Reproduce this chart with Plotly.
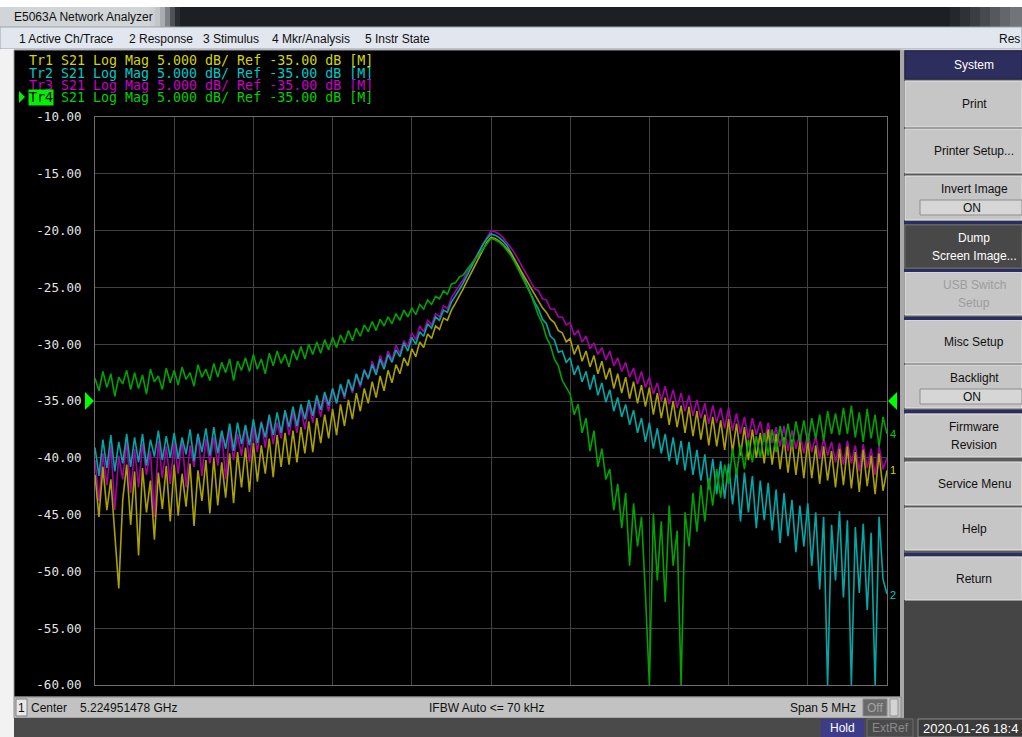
import plotly.graph_objects as go

# ---------------- data (S21 log-mag, dB), sweep -2.5..+2.5 MHz around centre ----------------
F_START = -2.5      # MHz offset from centre
F_STEP = 0.025      # MHz per point
Y_TICKS = [-60, -55, -50, -45, -40, -35, -30, -25, -20, -15, -10]
Y_TICK_TEXT = ["-60.00", "-55.00", "-50.00", "-45.00", "-40.00", "-35.00",
               "-30.00", "-25.00", "-20.00", "-15.00", "-10.00"]

tr1 = [  # yellow
    -41.5, -45.2, -40.8, -44.6, -41.9, -46.8, -51.5, -43.7, -40.6, -45.9,
    -41.2, -48.6, -40.9, -44.8, -42.0, -47.2, -41.3, -44.5, -40.7, -45.6,
    -40.6, -45.1, -41.4, -44.3, -40.5, -46.0, -41.1, -43.8, -40.2, -44.9,
    -40.0, -44.2, -40.4, -43.5, -39.6, -44.0, -39.5, -42.6, -39.1, -43.0,
    -38.7, -42.1, -38.9, -41.4, -38.3, -41.7, -38.0, -40.8, -37.8, -40.6,
    -37.6, -40.4, -37.3, -39.6, -36.8, -39.5, -36.5, -38.7, -36.2, -38.3,
    -35.7, -38.0, -35.3, -37.2, -34.9, -36.6, -34.3, -35.9, -33.9, -35.2,
    -33.3, -34.7, -32.8, -34.1, -32.3, -33.4, -31.8, -32.6, -31.2, -31.9,
    -30.4, -31.1, -29.8, -30.3, -29.1, -29.5, -28.4, -28.7, -27.7, -27.9,
    -27.0, -26.4, -25.8, -25.1, -24.4, -23.7, -23.0, -22.3, -21.6, -21.0,
    -20.6, -20.7, -20.9, -21.2, -21.6, -22.0, -22.6, -23.2, -23.8, -24.4,
    -25.0, -25.6, -26.2, -26.8, -27.2, -27.8, -28.1, -28.8, -29.0, -29.8,
    -29.5, -30.9, -30.1, -31.5, -30.6, -32.0, -31.0, -32.6, -31.5, -33.1,
    -32.1, -33.9, -32.6, -34.3, -32.9, -34.8, -33.3, -35.2, -33.6, -35.5,
    -33.8, -36.2, -34.3, -36.5, -34.7, -37.1, -35.0, -37.3, -35.4, -37.8,
    -35.5, -38.1, -35.9, -38.4, -36.2, -38.9, -36.4, -39.0, -36.7, -39.3,
    -36.6, -39.5, -37.0, -39.8, -37.3, -40.2, -37.5, -40.0, -37.8, -40.5,
    -37.5, -40.6, -37.9, -41.0, -38.2, -41.3, -38.4, -41.5, -38.6, -41.8,
    -38.4, -41.8, -38.9, -42.3, -39.0, -42.0, -39.4, -42.6, -39.2, -42.4,
    -39.0, -42.7, -39.5, -43.0, -39.3, -42.5, -39.8, -43.2, -39.6, -42.9,
    -41.1,
]

tr2 = [  # cyan
    -39.1, -41.6, -38.4, -40.9, -38.0, -41.2, -38.6, -40.5, -37.9, -40.8,
    -38.2, -40.4, -37.9, -40.7, -38.4, -39.9, -37.6, -40.2, -38.1, -40.0,
    -37.8, -40.1, -38.2, -39.7, -37.5, -40.3, -37.9, -39.5, -37.4, -39.8,
    -37.3, -39.6, -37.6, -39.2, -37.0, -39.4, -36.9, -38.8, -37.1, -38.9,
    -36.6, -38.7, -36.9, -38.2, -36.2, -38.0, -36.0, -37.8, -35.8, -37.3,
    -35.5, -37.2, -35.3, -36.6, -34.9, -36.3, -34.5, -35.8, -34.2, -35.4,
    -33.9, -35.2, -33.5, -34.6, -33.1, -34.1, -32.6, -33.6, -32.3, -33.0,
    -31.8, -32.7, -31.3, -32.2, -30.9, -31.6, -30.5, -31.1, -29.9, -30.6,
    -29.4, -30.0, -28.9, -29.3, -28.2, -28.6, -27.6, -27.9, -27.0, -27.2,
    -26.3, -25.8, -25.2, -24.6, -23.9, -23.2, -22.6, -21.9, -21.2, -20.7,
    -20.3, -20.4, -20.6, -20.9, -21.3, -21.9, -22.5, -23.2, -24.0, -24.8,
    -25.5, -26.3, -26.9, -27.8, -28.2, -29.3, -29.6, -30.7, -30.6, -31.6,
    -31.2, -32.7, -31.9, -33.3, -32.4, -34.0, -32.7, -34.5, -33.4, -35.1,
    -34.0, -35.9, -34.7, -36.4, -35.3, -37.1, -35.8, -37.8, -36.5, -38.6,
    -36.9, -39.2, -37.4, -39.6, -37.9, -40.3, -38.2, -40.6, -38.5, -41.1,
    -38.6, -41.5, -39.3, -42.0, -39.7, -42.8, -40.1, -43.2, -40.3, -43.6,
    -40.5, -44.1, -40.9, -45.6, -41.3, -44.8, -41.6, -46.2, -42.0, -45.5,
    -42.2, -46.4, -42.8, -47.5, -43.1, -46.9, -43.7, -48.3, -44.2, -47.8,
    -44.0, -49.5, -44.8, -51.6, -45.2, -60.0, -45.9, -50.8, -44.7, -52.3,
    -45.5, -60.0, -46.1, -51.9, -45.8, -53.4, -46.6, -60.0, -45.2, -50.7,
    -52.0,
]

tr3 = [  # magenta
    -40.2, -43.8, -39.6, -42.4, -38.9, -44.6, -39.8, -41.9, -38.5, -43.1,
    -39.2, -42.6, -38.7, -41.5, -39.4, -45.2, -38.5, -41.8, -39.0, -42.3,
    -38.6, -41.4, -38.4, -42.6, -38.9, -40.8, -37.9, -41.6, -38.3, -40.5,
    -38.2, -40.7, -37.8, -41.9, -37.5, -40.2, -37.9, -39.8, -37.2, -40.4,
    -37.1, -39.5, -36.8, -39.1, -36.4, -38.8, -36.9, -38.3, -35.9, -38.0,
    -36.0, -37.8, -35.6, -37.5, -35.3, -36.9, -34.8, -36.4, -34.5, -35.9,
    -33.9, -35.2, -33.6, -34.8, -33.1, -34.3, -32.7, -33.8, -32.2, -33.1,
    -31.5, -32.5, -31.0, -31.9, -30.6, -31.4, -30.1, -30.8, -29.7, -30.2,
    -29.0, -29.6, -28.4, -28.9, -27.9, -28.3, -27.3, -27.6, -26.6, -26.9,
    -25.9, -25.4, -24.8, -24.3, -23.6, -23.0, -22.4, -21.7, -21.1, -20.5,
    -20.0, -20.1, -20.3, -20.6, -21.0, -21.5, -22.0, -22.6, -23.2, -23.9,
    -24.4, -25.1, -25.3, -26.0, -26.1, -26.9, -26.9, -27.6, -27.6, -28.3,
    -28.1, -29.2, -28.8, -29.8, -29.3, -30.4, -29.9, -30.9, -30.3, -31.4,
    -30.6, -31.9, -31.2, -32.4, -31.6, -32.9, -32.1, -33.5, -32.4, -33.8,
    -32.9, -34.4, -33.4, -35.0, -33.7, -35.3, -34.0, -35.6, -34.3, -35.9,
    -34.5, -36.3, -34.9, -36.5, -35.2, -37.0, -35.4, -36.9, -35.6, -37.4,
    -35.6, -37.6, -36.1, -37.9, -36.4, -38.3, -36.5, -38.0, -36.8, -38.6,
    -36.9, -38.7, -37.3, -39.0, -37.2, -39.4, -37.6, -39.2, -37.9, -39.6,
    -37.8, -39.5, -38.1, -40.1, -38.3, -39.8, -38.6, -40.4, -38.7, -40.6,
    -38.5, -40.5, -38.9, -41.2, -38.8, -40.9, -39.2, -41.5, -39.0, -41.0,
    -40.0,
]

tr4 = [  # green
    -33.0, -34.1, -32.4, -33.8, -32.6, -34.6, -32.9, -33.5, -32.3, -34.0,
    -32.5, -33.9, -32.7, -34.4, -32.2, -33.3, -32.8, -34.0, -32.1, -33.4,
    -32.3, -33.6, -32.0, -33.1, -32.5, -33.7, -31.8, -32.9, -32.2, -33.2,
    -31.7, -32.9, -31.6, -32.5, -31.3, -33.2, -31.5, -32.3, -31.2, -32.4,
    -30.9, -32.2, -31.3, -32.6, -30.8, -31.9, -30.6, -31.7, -30.9, -32.0,
    -30.5, -31.4, -30.2, -31.3, -30.0, -30.9, -29.8, -30.8, -29.6, -30.5,
    -29.4, -30.3, -29.2, -29.9, -28.8, -29.7, -28.6, -29.3, -28.3, -28.9,
    -28.0, -28.8, -27.8, -28.4, -27.6, -28.2, -27.3, -27.9, -27.0, -27.6,
    -26.8, -27.4, -26.5, -26.9, -26.1, -26.5, -25.8, -26.0, -25.3, -25.6,
    -24.7, -24.6, -24.1, -23.9, -23.4, -23.0, -22.6, -22.1, -21.6, -21.1,
    -20.7, -20.8, -21.0, -21.3, -21.7, -22.2, -22.8, -23.5, -24.1, -24.9,
    -25.6, -26.5, -27.5, -28.2, -29.4, -30.1, -31.3, -31.9, -33.2, -33.8,
    -34.4, -36.2, -35.3, -37.8, -36.5, -39.4, -37.6, -40.8, -39.2, -41.9,
    -41.0, -44.6, -42.3, -46.2, -43.1, -49.5, -44.0, -47.8, -45.2, -52.0,
    -60.0, -44.9, -50.8, -45.6, -52.7, -44.2, -49.5, -46.4, -60.0, -44.8,
    -47.8, -43.1, -46.5, -42.4, -45.6, -41.8, -44.2, -41.0, -43.5, -40.6,
    -42.3, -39.2, -41.5, -38.9, -41.0, -38.4, -40.4, -38.1, -40.0, -37.8,
    -39.8, -37.5, -39.5, -37.2, -38.9, -37.0, -39.1, -36.8, -38.6, -36.7,
    -38.7, -36.5, -38.3, -36.2, -38.5, -35.9, -37.9, -36.1, -38.0, -35.6,
    -37.9, -35.4, -38.2, -36.0, -38.6, -35.7, -38.3, -36.2, -39.0, -36.4,
    -37.9,
]

TRACE_NAMES = ["Tr3", "Tr2", "Tr1", "Tr4"]          # drawing order
TRACE_DATA = [tr3, tr2, tr1, tr4]
TRACE_COLORS = ["#a800a8", "#00a8a8", "#aaa200", "#00a400"]
LABEL_COLORS = {"Tr1": "#d4d400", "Tr2": "#00c8c8", "Tr3": "#c800c8", "Tr4": "#00d000"}

# ---------------- pixel helpers (plot area 95..887 x 117..685) ----------------
PL, PR, PT, PB = 95, 887, 117, 685


def X(x):
    return (x - PL) / (PR - PL)


def Y(y):
    return (PB - y) / (PB - PT)


shapes = []
annots = []


def rect(x0, y0, x1, y1, fill, line=None, lw=0, layer="below"):
    shapes.append(dict(type="rect", xref="paper", yref="paper",
                       x0=X(x0), x1=X(x1), y0=Y(y1), y1=Y(y0),
                       fillcolor=fill, line=dict(color=line or fill, width=lw), layer=layer))


def tri(pts, fill):
    p = "M " + " L ".join(f"{X(a):.5f},{Y(b):.5f}" for a, b in pts) + " Z"
    shapes.append(dict(type="path", xref="paper", yref="paper", path=p,
                       fillcolor=fill, line=dict(color=fill, width=0), layer="above"))


UI = "Liberation Sans"
MONO = "DejaVu Sans Mono"


def text(x, y, s, color="#101010", size=12, anchor="left", family=UI, bg=None):
    a = dict(xref="paper", yref="paper", x=X(x), y=Y(y), text=s, showarrow=False,
             xanchor=anchor, yanchor="middle", font=dict(family=family, size=size, color=color),
             borderpad=0)
    if bg:
        a["bgcolor"] = bg
    annots.append(a)


# ---------------- window chrome ----------------
rect(0, 7, 1022, 27, "#1c2024")          # title bar
for i, c in enumerate(["#d2d5d8", "#cdd0d3", "#c3c6c9", "#a9adb1", "#7f8387", "#4e5357", "#2a2e32"]):
    rect(0 if i == 0 else 150 + (i - 1) * 5, 7, 150 + i * 5, 27, c)
for i, c in enumerate(["#24282c", "#2e3236", "#3a3e42", "#474b4f", "#55595d", "#63676b", "#71757a"]):
    rect(950 + i * 10, 7, 960 + i * 10 + (5 if i == 6 else 0), 27, c)
text(13, 17, "E5063A Network Analyzer", "#101010", 12)

rect(0, 27, 1022, 49, "#e1e6ef", "#9da3ab", 1)   # menu bar
for lx, s in [(18, "1 Active Ch/Trace"), (128, "2 Response"), (202, "3 Stimulus"),
              (271, "4 Mkr/Analysis"), (364, "5 Instr State")]:
    text(lx, 39, s, "#101010", 12)
text(1021, 39, "Res", "#101010", 12, "right")

rect(0, 49, 14, 737, "#f2f2f2")                  # left white strip
rect(14, 50, 901, 697, "#000000", "#9a9a9a", 1)   # instrument black area
rect(900, 50, 904, 718, "#a8a8a8")

# status bar
rect(14, 697, 901, 718, "#c2c2c2", "#8c8c8c", 1)
rect(16, 699, 27, 716, "#e8e8e8", "#808080", 1)
text(21.5, 708, "1", "#101010", 12, "center")
text(30, 708, "Center", "#101010", 12)
text(79, 708, "5.224951478 GHz", "#101010", 12)
text(486, 708, "IFBW Auto &lt;= 70 kHz", "#101010", 12, "center")
text(857, 708, "Span 5 MHz", "#101010", 12, "right")
rect(863, 699, 887, 716, "#6a6a6a", "#8a8a8a", 1)
text(875, 708, "Off", "#a4a4a4", 12, "center")
rect(890, 699, 898, 716, "#d4d4d4", "#909090", 1)

# bottom bar
rect(14, 718, 1022, 737, "#4a4a4a")
rect(821, 719, 864, 737, "#3c3c88")
text(842.5, 728, "Hold", "#ffffff", 12, "center")
rect(867, 719, 913, 737, "#4a4a4a", "#6c6c6c", 1)
text(890, 728, "ExtRef", "#8a8a8a", 12, "center")
rect(918, 719, 1024, 737, "#3a3a3a", "#8a8a8a", 1)
text(922, 728, "2020-01-26 18:4", "#ffffff", 13)

# right soft-key panel
rect(904, 50, 1022, 718, "#5a5a5a")
rect(904, 600, 1022, 718, "#454545")
rect(905, 51, 1022, 79, "#2e2e5e", "#20204a", 1)
text(974, 65, "System", "#ffffff", 12, "center")

buttons = [
    (81, 127, ["Print"], "#c6c6c6", "#101010"),
    (129, 173, ["Printer Setup..."], "#c6c6c6", "#101010"),
    (176, 220, ["Invert Image"], "#c6c6c6", "#101010"),
    (225, 268, ["Dump", "Screen Image..."], "#484848", "#ffffff"),
    (272, 315, ["USB Switch", "Setup"], "#c6c6c6", "#9c9c9c"),
    (320, 363, ["Misc Setup"], "#c6c6c6", "#101010"),
    (365, 408, ["Backlight"], "#c6c6c6", "#101010"),
    (414, 457, ["Firmware", "Revision"], "#c6c6c6", "#101010"),
    (462, 505, ["Service Menu"], "#c6c6c6", "#101010"),
    (508, 550, ["Help"], "#c6c6c6", "#101010"),
    (557, 600, ["Return"], "#c6c6c6", "#101010"),
]
for y0, y1, lines, fill, fc in buttons:
    rect(905, y0, 1022, y1, fill, "#e4e4e4" if fill != "#484848" else "#6a6a6a", 1)
    if len(lines) == 1:
        ty = (y0 + y1) / 2
        if lines[0] in ("Invert Image", "Backlight"):
            ty = y0 + 13
        text(974, ty, lines[0], fc, 12, "center")
    else:
        text(974, y0 + 13, lines[0], fc, 12, "center")
        text(974, y0 + 31, lines[1], fc, 12, "center")
# ON indicators
rect(920, 200, 1022, 215, "#d6d6d6", "#8e8e8e", 1)
text(972, 207.5, "ON", "#101010", 12, "center")
rect(920, 389, 1022, 404, "#d6d6d6", "#8e8e8e", 1)
text(972, 396.5, "ON", "#101010", 12, "center")
# navy separators
for sy in (221, 269, 317, 410, 553):
    rect(904, sy, 1022, sy + 3, "#2c2c64")

# ---------------- trace legend ----------------
CH_W = 8.02  # px per monospace character
legend_rows = [("Tr1", 61), ("Tr2", 73), ("Tr3", 85), ("Tr4", 97)]
for nm, ly in legend_rows:
    if nm == "Tr4":
        text(28, ly, "Tr4", "#000000", 13.3, family=MONO, bg="#00f000")
    else:
        text(28, ly, nm, LABEL_COLORS[nm], 13.3, family=MONO)
    text(28 + 4 * CH_W, ly, "S21 Log Mag 5.000 dB/ Ref -35.00 dB [M]", LABEL_COLORS[nm], 13.3, family=MONO)
tri([(19, 91), (25, 97), (19, 103)], "#00f000")

# reference markers and trace-end labels
tri([(85, 392), (94, 401), (85, 410)], "#00ff00")
tri([(897, 392), (888, 401), (897, 410)], "#00ff00")
text(889, 434, "4", LABEL_COLORS["Tr4"], 11)
text(889, 470, "1", LABEL_COLORS["Tr1"], 11)
text(889, 595, "2", LABEL_COLORS["Tr2"], 11)

# ---------------- figure ----------------
fig = go.Figure()
for nm, vals, col in zip(TRACE_NAMES, TRACE_DATA, TRACE_COLORS):
    fig.add_trace(go.Scatter(y=vals, x0=F_START, dx=F_STEP, mode="lines", name=nm,
                             line=dict(color=col, width=1.6), showlegend=False, hoverinfo="skip"))

fig.update_layout(
    width=1022, height=737, autosize=False,
    margin=dict(l=PL, r=1022 - PR, t=PT, b=737 - PB, pad=0),
    paper_bgcolor="#ffffff", plot_bgcolor="#000000",
    showlegend=False, shapes=shapes, annotations=annots,
    xaxis=dict(range=[-2.5, 2.5], dtick=0.5, tick0=-2.5, showgrid=True, gridcolor="#424242",
               gridwidth=1, showline=True, mirror=True, linecolor="#6e6e6e", linewidth=1,
               showticklabels=False, ticks="", zeroline=False, fixedrange=True),
    yaxis=dict(range=[-60, -10], tickvals=Y_TICKS, ticktext=Y_TICK_TEXT,
               tickfont=dict(family=MONO, size=12.5, color="#e4e4e4"),
               ticks="outside", ticklen=10, tickcolor="rgba(0,0,0,0)",
               showgrid=True, gridcolor="#424242", gridwidth=1,
               showline=True, mirror=True, linecolor="#6e6e6e", linewidth=1,
               zeroline=False, fixedrange=True),
)

fig.write_html("out.html")
